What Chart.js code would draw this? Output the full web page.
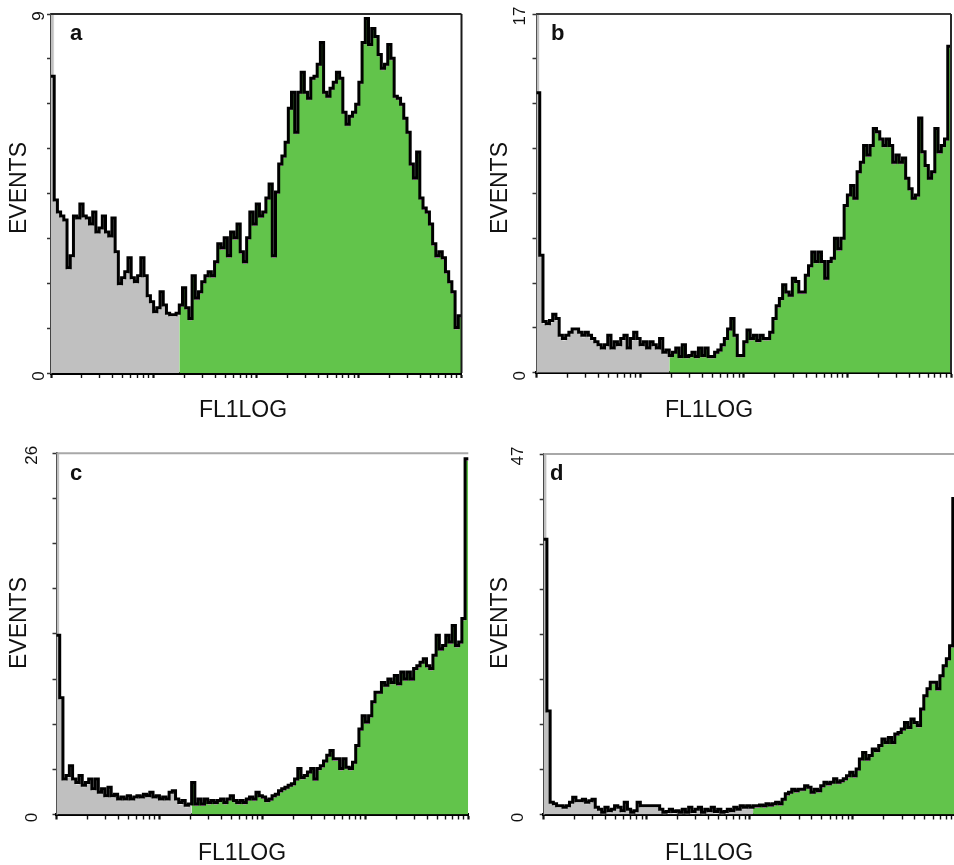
<!DOCTYPE html>
<html>
<head>
<meta charset="utf-8">
<script src="https://cdn.jsdelivr.net/npm/chart.js@4.4.1/dist/chart.umd.min.js"></script>
<style>
  html, body { margin: 0; padding: 0; background: #fff; overflow: hidden; }
  body { width: 954px; height: 865px; position: relative; }
  canvas { position: absolute; }
</style>
</head>
<body>
<canvas id="panelA"></canvas>
<canvas id="panelB"></canvas>
<canvas id="panelC"></canvas>
<canvas id="panelD"></canvas>
<script>
// FL1 histograms, 128 channels over 4 log decades
const channels = 128;
const decades = 4;

const yMaxA = 9, yMaxB = 17, yMaxC = 26, yMaxD = 47;

// first green channel (gate marker)
const gateA = 40, gateB = 41, gateC = 42, gateD = 65;

// height of the control overlay in channel 0 (goes off scale)
const controlPeakA = 12, controlPeakB = 20, controlPeakC = 30, controlPeakD = 60;

const eventsA = [
  7.4, 4.3, 4.0, 3.9, 3.8, 2.6, 2.9, 3.9, 3.85, 4.2,
  3.9, 3.85, 3.7, 4.0, 3.5, 3.6, 3.9, 3.5, 3.4, 3.85,
  3.0, 2.2, 2.35, 2.5, 2.85, 2.35, 2.25, 2.4, 2.85, 2.4,
  1.9, 1.75, 1.5, 1.6, 2.0, 1.67, 1.46, 1.42, 1.42, 1.46,
  1.67, 2.1, 1.6, 1.33, 2.4, 1.84, 2.0, 2.25, 2.4, 2.5,
  2.4, 2.75, 3.2, 3.1, 3.35, 2.9, 3.5, 3.35, 3.7, 3.0,
  2.75, 3.35, 4.0, 3.7, 4.2, 3.9, 4.0, 4.35, 4.7, 2.9,
  4.5, 5.2, 5.4, 5.75, 6.6, 7.0, 6.0, 7.0, 7.5, 7.0,
  6.85, 7.35, 7.4, 7.7, 8.25, 7.0, 6.9, 7.1, 7.25, 7.5,
  7.35, 6.5, 6.2, 6.4, 6.5, 6.7, 7.25, 8.25, 8.85, 8.2,
  8.6, 8.4, 7.95, 7.6, 7.7, 8.2, 7.85, 6.9, 6.85, 6.7,
  6.35, 6.0, 5.2, 4.85, 5.5, 4.35, 4.1, 4.0, 3.7, 3.2,
  2.9, 3.0, 2.85, 2.5, 2.25, 2.0, 1.1, 1.4
];

const eventsB = [
  13.2, 5.5, 2.35, 2.25, 2.4, 2.7, 2.5, 1.7, 1.55, 1.7,
  1.85, 2.0, 2.0, 1.85, 1.7, 1.85, 1.7, 1.55, 1.4, 1.25,
  1.1, 1.25, 1.7, 1.1, 1.4, 1.25, 1.55, 1.7, 1.1, 1.55,
  1.85, 1.55, 1.25, 1.4, 1.1, 1.4, 1.25, 1.1, 1.55, 0.9,
  1.0, 0.75, 0.9, 1.1, 0.7, 1.25, 0.7, 0.75, 0.9, 0.7,
  1.1, 0.75, 1.1, 0.7, 0.7, 0.9, 1.0, 1.25, 1.55, 2.0,
  2.5, 1.7, 0.75, 0.75, 1.4, 1.95, 1.55, 1.7, 1.45, 1.7,
  1.55, 1.55, 1.85, 2.5, 3.1, 3.45, 4.1, 3.75, 3.6, 4.4,
  4.25, 3.75, 3.75, 4.55, 5.0, 5.65, 5.2, 5.65, 5.2, 4.4,
  5.2, 5.35, 6.3, 5.8, 6.3, 7.85, 8.35, 8.8, 8.2, 9.45,
  9.9, 10.7, 10.25, 10.7, 11.5, 11.35, 11.0, 10.7, 11.0, 10.7,
  9.9, 10.25, 9.9, 10.1, 9.15, 8.65, 8.2, 8.35, 12.0, 10.4,
  9.75, 9.15, 9.45, 11.5, 10.4, 10.7, 11.0, 15.4
];

const eventsC = [
  12.8, 8.3, 2.45, 2.7, 3.4, 2.45, 2.2, 2.7, 2.0, 2.2,
  2.45, 1.75, 2.45, 1.5, 1.75, 1.25, 1.85, 1.25, 1.35, 1.0,
  1.15, 1.0, 1.25, 1.0, 1.15, 1.25, 1.15, 1.35, 1.25, 1.5,
  1.15, 1.25, 1.0, 1.15, 1.0, 1.5, 1.6, 1.0, 0.75, 0.9,
  0.55, 0.65, 2.2, 0.65, 1.0, 0.65, 1.0, 0.75, 0.9, 0.75,
  0.9, 1.0, 0.75, 1.0, 1.25, 0.9, 0.75, 0.9, 0.75, 1.0,
  1.15, 1.0, 1.5, 1.25, 1.15, 0.9, 1.0, 1.25, 1.35, 1.6,
  1.75, 1.85, 2.0, 2.1, 2.45, 3.2, 2.55, 2.7, 2.95, 3.2,
  2.45, 3.2, 3.4, 3.75, 4.15, 4.5, 3.9, 3.9, 3.2, 3.9,
  3.3, 3.2, 3.65, 4.85, 6.05, 7.0, 6.55, 7.0, 8.0, 8.7,
  8.7, 9.4, 9.2, 9.65, 9.4, 9.9, 9.3, 10.15, 9.65, 10.15,
  9.65, 10.4, 10.6, 10.85, 11.1, 10.6, 10.4, 11.35, 12.8, 11.8,
  12.05, 12.8, 12.3, 13.5, 12.05, 12.3, 14.0, 25.5
];

const eventsD = [
  35.7, 13.3, 1.4, 1.2, 0.95, 0.95, 0.75, 0.95, 1.4, 2.05,
  1.6, 1.6, 1.8, 1.4, 1.6, 1.8, 0.75, 0.5, 0.1, 0.75,
  0.3, 0.5, 0.95, 0.75, 0.3, 1.4, 0.5, 0.1, 0.3, 1.4,
  0.95, 0.95, 0.95, 0.95, 0.95, 0.95, 0.5, 0.1, 0.2, 0.5,
  0.2, 0.3, 0.1, 0.5, 0.1, 0.75, 0.2, 0.5, 0.75, 0.1,
  0.5, 0.3, 0.75, 0.2, 0.5, 0.1, 0.2, 0.5, 0.3, 0.75,
  0.5, 0.95, 0.75, 0.95, 0.75, 0.95, 0.95, 1.05, 0.95, 1.2,
  1.05, 1.2, 1.4, 1.2, 1.8, 2.5, 2.7, 3.1, 2.9, 3.1,
  3.1, 3.55, 3.35, 2.7, 3.1, 2.9, 3.55, 4.0, 3.8, 4.0,
  4.45, 4.0, 4.2, 4.45, 4.85, 5.3, 4.85, 5.75, 7.05, 7.9,
  7.05, 7.5, 8.35, 8.15, 8.8, 9.65, 9.2, 9.85, 9.2, 10.3,
  10.5, 10.95, 11.8, 11.15, 12.25, 11.8, 11.4, 13.55, 15.3, 16.2,
  17.05, 17.05, 16.2, 17.9, 19.2, 20.1, 21.8, 41
];

const panels = [
  { id: 'panelA', letter: 'a', events: eventsA, gate: gateA, peak: controlPeakA, yMax: yMaxA,
    pos: [0, 0, 477, 432], area: [51, 14, 461.5, 373],
    topColor: '#2a2a2a', rightColor: '#1a1a1a',
    letterAt: [70, 40], eventsAt: [20, 188], titleAt: [243, 417], yLabelX: 39 },
  { id: 'panelB', letter: 'b', events: eventsB, gate: gateB, peak: controlPeakB, yMax: yMaxB,
    pos: [477, 0, 477, 432], area: [59.5, 14, 474, 372.7],
    topColor: '#3a3a3a', rightColor: '#2a2a2a',
    letterAt: [74, 40], eventsAt: [24, 188], titleAt: [232, 417], yLabelX: 43 },
  { id: 'panelC', letter: 'c', events: eventsC, gate: gateC, peak: controlPeakC, yMax: yMaxC,
    pos: [0, 432, 477, 433], area: [56.5, 21.3, 468.3, 382.5],
    topColor: '#a8a8a8', rightColor: null,
    letterAt: [70, 48], eventsAt: [20, 191], titleAt: [242, 428], yLabelX: 32 },
  { id: 'panelD', letter: 'd', events: eventsD, gate: gateD, peak: controlPeakD, yMax: yMaxD,
    pos: [477, 432, 485, 433], area: [66.7, 22, 479, 382.5],
    topColor: '#a8a8a8', rightColor: null,
    letterAt: [73, 48], eventsAt: [24, 191], titleAt: [232, 428], yLabelX: 41 }
];

const FONT = "'Liberation Sans', Arial, sans-serif";
const Y_TICK = 4, X_TICK = 5;

// left edge of channel i on the FL1 scale
function edge(i) {
  return Math.pow(10, decades * i / channels);
}

function steps(values, from, to, firstValue) {
  const pts = [];
  for (let i = from; i < to; i++) {
    pts.push({ x: edge(i), y: (i === 0 && firstValue != null) ? firstValue : values[i] });
  }
  pts.push({ x: edge(to), y: values[to - 1] });
  return pts;
}

const panelDecor = {
  id: 'panelDecor',
  // outline sits a little above the filled areas
  beforeDatasetDraw(chart, args) {
    if (args.index === 0) {
      chart.ctx.save();
      chart.ctx.translate(0, -1.5);
    }
  },
  afterDatasetDraw(chart, args) {
    if (args.index === 0) chart.ctx.restore();
  },
  afterDraw(chart) {
    const p = chart.options.plugins.panelDecor;
    const { ctx, chartArea: a } = chart;
    const y = chart.scales.y;
    ctx.save();

    // frame top / right
    ctx.lineWidth = 2;
    ctx.strokeStyle = p.topColor;
    ctx.beginPath();
    ctx.moveTo(a.left, a.top);
    ctx.lineTo(a.right, a.top);
    ctx.stroke();
    if (p.rightColor) {
      ctx.strokeStyle = p.rightColor;
      ctx.beginPath();
      ctx.moveTo(a.right, a.top);
      ctx.lineTo(a.right, a.bottom);
      ctx.stroke();
    }

    ctx.fillStyle = '#111';
    ctx.font = 'bold 22px ' + FONT;
    ctx.textAlign = 'left';
    ctx.textBaseline = 'alphabetic';
    ctx.fillText(p.letter, p.letterAt[0], p.letterAt[1]);

    ctx.font = '23px ' + FONT;
    ctx.textAlign = 'center';
    ctx.fillText('FL1LOG', p.titleAt[0], p.titleAt[1]);

    const rotated = (text, x, yy, font) => {
      ctx.save();
      ctx.translate(x, yy);
      ctx.rotate(-Math.PI / 2);
      ctx.font = font;
      ctx.textAlign = 'center';
      ctx.textBaseline = 'middle';
      ctx.fillText(text, 0, 0);
      ctx.restore();
    };
    rotated('EVENTS', p.eventsAt[0], p.eventsAt[1], '23px ' + FONT);
    rotated(String(p.yMax), p.yLabelX, y.getPixelForValue(p.yMax) + 2, '17px ' + FONT);
    rotated('0', p.yLabelX, y.getPixelForValue(0) + 3, '17px ' + FONT);
    ctx.restore();
  }
};

panels.forEach(p => {
  const canvas = document.getElementById(p.id);
  const [left, top, width, height] = p.pos;
  canvas.style.left = left + 'px';
  canvas.style.top = top + 'px';
  canvas.width = width;
  canvas.height = height;

  const [aL, aT, aR, aB] = p.area;

  new Chart(canvas.getContext('2d'), {
    type: 'line',
    data: {
      datasets: [
        {
          // histogram outline
          data: steps(p.events, 0, channels),
          borderColor: '#000',
          borderWidth: 3,
          stepped: true,
          fill: false,
          pointRadius: 0,
          clip: { left: 2, right: 2, top: 0, bottom: 2 }
        },
        {
          // ungated part, control overlay
          data: steps(p.events, 0, p.gate, p.peak),
          borderColor: '#ffffff',
          borderWidth: 1,
          backgroundColor: '#c0c0c0',
          stepped: true,
          fill: 'origin',
          pointRadius: 0,
          clip: 0
        },
        {
          // gated positive part
          data: steps(p.events, p.gate, channels),
          borderColor: 'rgba(214, 110, 214, 0.9)',
          borderWidth: 1,
          backgroundColor: '#62c44b',
          stepped: true,
          fill: 'origin',
          pointRadius: 0,
          clip: 0
        }
      ]
    },
    options: {
      responsive: false,
      animation: false,
      events: [],
      layout: {
        padding: { left: aL - Y_TICK, top: aT, right: width - aR, bottom: height - aB - X_TICK }
      },
      plugins: {
        legend: { display: false },
        tooltip: { enabled: false },
        panelDecor: {
          letter: p.letter, yMax: p.yMax, topColor: p.topColor, rightColor: p.rightColor,
          letterAt: p.letterAt, eventsAt: p.eventsAt, titleAt: p.titleAt, yLabelX: p.yLabelX
        }
      },
      scales: {
        x: {
          type: 'logarithmic',
          min: 1,
          max: Math.pow(10, decades),
          afterBuildTicks(scale) {
            const ticks = [];
            for (let d = 0; d < decades; d++) {
              for (let m = 1; m < 10; m++) ticks.push({ value: m * Math.pow(10, d), major: m === 1 });
            }
            ticks.push({ value: Math.pow(10, decades), major: true });
            scale.ticks = ticks;
          },
          ticks: { display: false, autoSkip: false },
          grid: {
            drawOnChartArea: false,
            tickLength: X_TICK,
            tickColor: '#111',
            tickWidth: ctx => (ctx.tick && ctx.tick.major ? 2.2 : 1.4)
          },
          border: { color: '#000', width: 3 }
        },
        y: {
          type: 'linear',
          min: 0,
          max: p.yMax,
          afterBuildTicks(scale) {
            scale.ticks = Array.from({ length: 9 }, (_, k) => ({ value: p.yMax * k / 8 }));
          },
          ticks: { display: false },
          grid: {
            drawOnChartArea: false,
            tickLength: Y_TICK,
            tickColor: '#333',
            tickWidth: 1.5
          },
          border: { color: '#444', width: 2 }
        }
      }
    },
    plugins: [panelDecor]
  });
});
</script>
</body>
</html>
